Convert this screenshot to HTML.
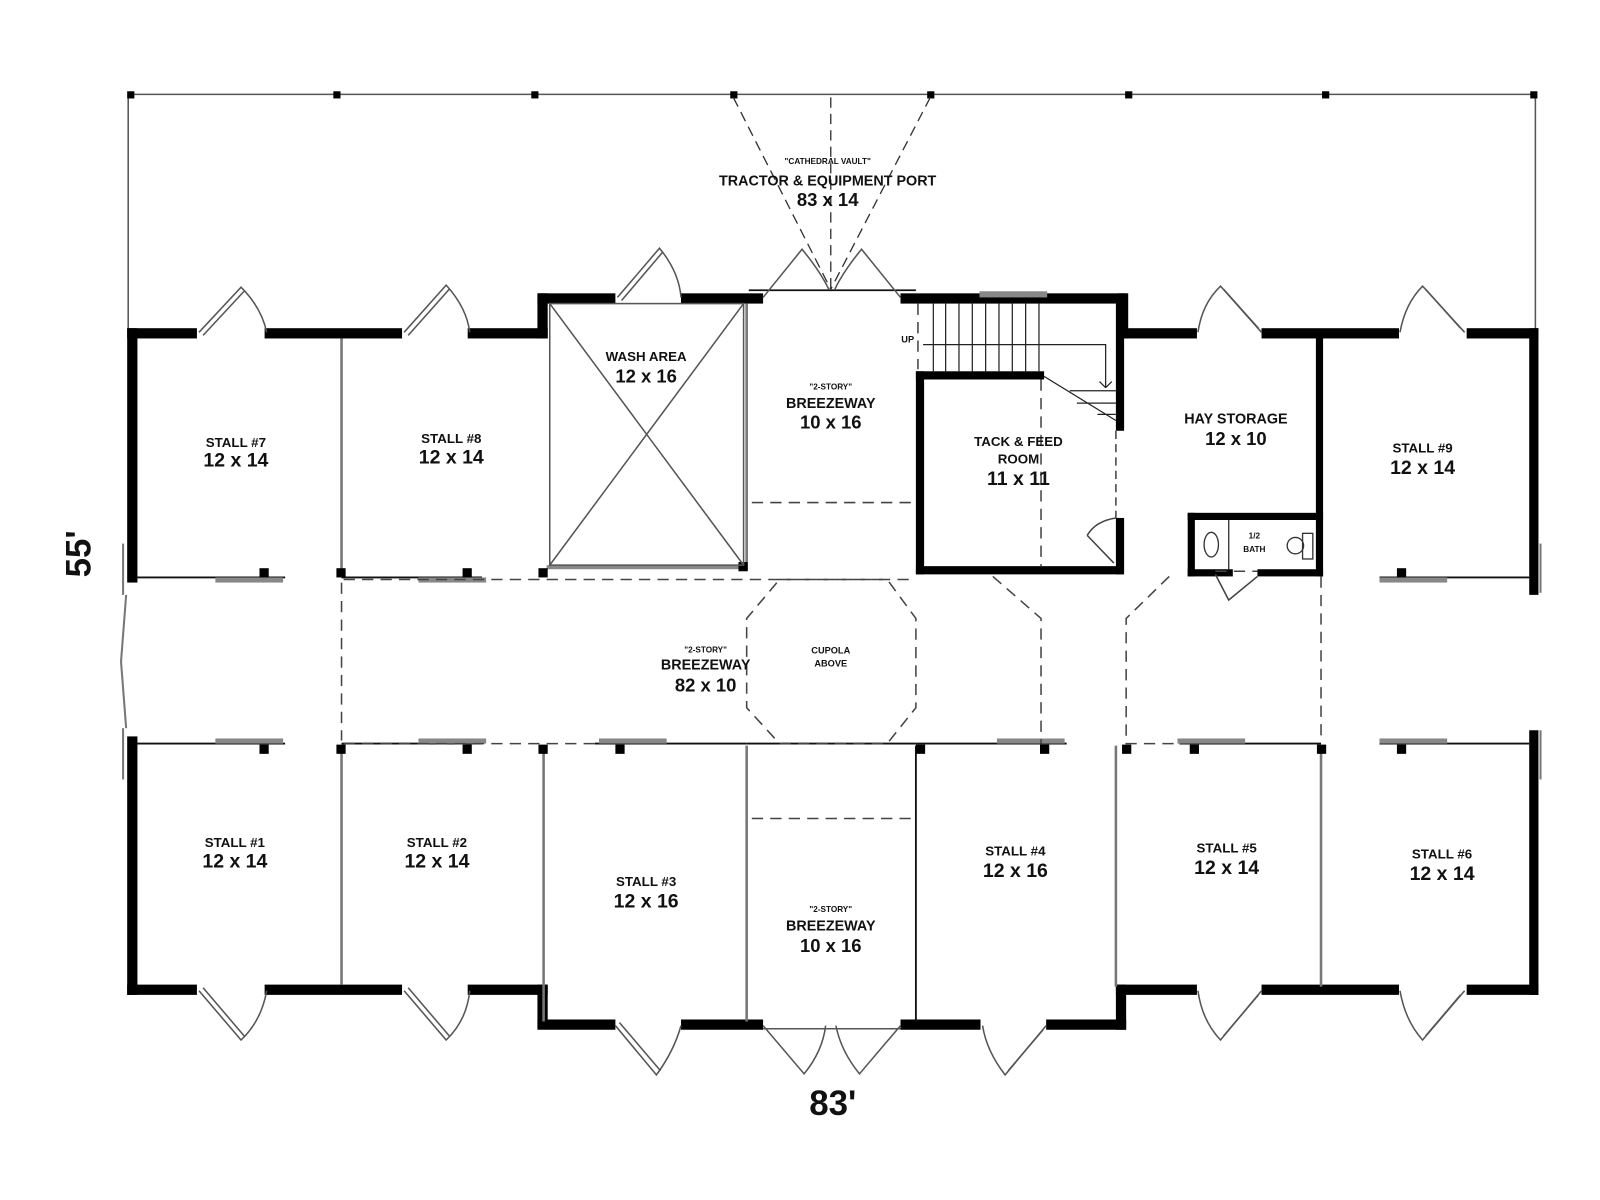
<!DOCTYPE html>
<html><head><meta charset="utf-8"><style>
html,body{margin:0;padding:0;background:#fff;}
svg{display:block;}
text{font-family:"Liberation Sans Narrow","Liberation Sans",sans-serif;font-weight:bold;fill:#111;text-anchor:middle;}
</style></head><body>
<svg width="1600" height="1200" viewBox="0 0 1560 1170" preserveAspectRatio="none" xmlns="http://www.w3.org/2000/svg">
<rect x="0" y="0" width="1560" height="1170" fill="#fff"/>
<!-- canopy -->
<g stroke="#555" stroke-width="1.5" fill="none">
<line x1="125" y1="92" x2="1497" y2="92"/>
<line x1="125" y1="92" x2="125" y2="322"/>
<line x1="1497" y1="92" x2="1497" y2="322"/>
</g>
<g fill="#000">
<rect x="124" y="89" width="7" height="7"/><rect x="325" y="89" width="7" height="7"/><rect x="518" y="89" width="7" height="7"/><rect x="712" y="89" width="7" height="7"/><rect x="904" y="89" width="7" height="7"/><rect x="1097" y="89" width="7" height="7"/><rect x="1289" y="89" width="7" height="7"/><rect x="1492" y="89" width="7" height="7"/>
</g>
<g stroke="#333" stroke-width="1.3" stroke-dasharray="10,6" fill="none">
<line x1="715" y1="95" x2="810" y2="282"/><line x1="907" y1="95" x2="810" y2="282"/><line x1="810" y1="95" x2="810" y2="282"/>
</g>
<!-- outer thick walls -->
<g fill="#000">
<!-- top -->
<rect x="124" y="320" width="68" height="10"/><rect x="258" y="320" width="134" height="10"/><rect x="456" y="320" width="78" height="10"/>
<rect x="524" y="286" width="10" height="44"/><rect x="524" y="286" width="76" height="10"/><rect x="664" y="286" width="80" height="10"/>
<rect x="878" y="286" width="220" height="10"/><rect x="1090" y="286" width="10" height="44"/>
<rect x="1090" y="320" width="77" height="10"/><rect x="1230" y="320" width="134" height="10"/><rect x="1430" y="320" width="70" height="10"/>
<!-- left/right -->
<rect x="124" y="320" width="10" height="248"/><rect x="124" y="718" width="10" height="252"/>
<rect x="1491" y="320" width="9" height="260"/><rect x="1491" y="712" width="9" height="258"/>
<!-- bottom -->
<rect x="124" y="960" width="68" height="10"/><rect x="258" y="960" width="134" height="10"/><rect x="456" y="960" width="78" height="10"/>
<rect x="524" y="960" width="10" height="42"/><rect x="524" y="994" width="76" height="10"/><rect x="664" y="994" width="80" height="10"/>
<rect x="878" y="994" width="78" height="10"/><rect x="1020" y="994" width="78" height="10"/><rect x="1088" y="960" width="10" height="44"/>
<rect x="1088" y="960" width="79" height="10"/><rect x="1230" y="960" width="134" height="10"/><rect x="1430" y="960" width="70" height="10"/>
<!-- tack room -->
<rect x="893" y="362" width="8" height="198"/><rect x="893" y="362" width="125" height="8"/><rect x="893" y="552" width="202" height="8"/>
<rect x="1088" y="290" width="8" height="130"/><rect x="1088" y="505" width="8" height="55"/>
<!-- bath -->
<rect x="1158" y="500" width="132" height="7"/><rect x="1158" y="500" width="7" height="62"/><rect x="1158" y="555" width="44" height="7"/><rect x="1226" y="555" width="64" height="7"/><rect x="1283" y="325" width="7" height="237"/>
</g>
<!-- window top -->
<rect x="955" y="284" width="66" height="6" fill="#888"/>
<!-- left side door lines -->
<g stroke="#777" stroke-width="2" fill="none">
<line x1="120" y1="530" x2="120" y2="580"/><line x1="120" y1="710" x2="120" y2="760"/>
<line x1="1502" y1="530" x2="1502" y2="578"/><line x1="1502" y1="712" x2="1502" y2="760"/>
<line x1="123" y1="580" x2="118" y2="645"/><line x1="123" y1="710" x2="118" y2="645"/>
</g>
<!-- interior grey partitions -->
<g stroke="#777" stroke-width="2.5" fill="none">
<line x1="333" y1="330" x2="333" y2="563"/><line x1="333" y1="727" x2="333" y2="960"/>
<line x1="530" y1="727" x2="530" y2="996"/><line x1="728" y1="296" x2="728" y2="556"/><line x1="728" y1="727" x2="728" y2="996"/>
<line x1="1088" y1="727" x2="1088" y2="962"/><line x1="1288" y1="727" x2="1288" y2="962"/>
</g>
<g stroke="#111" stroke-width="1.8" fill="none">
<line x1="893" y1="727" x2="893" y2="996"/>
<line x1="134" y1="563" x2="278" y2="563"/><line x1="333" y1="563" x2="470" y2="563"/>
<line x1="134" y1="725" x2="278" y2="725"/><line x1="333" y1="725" x2="470" y2="725"/>
<line x1="580" y1="725" x2="728" y2="725"/><line x1="728" y1="725" x2="893" y2="725"/><line x1="893" y1="725" x2="1040" y2="725"/>
<line x1="1150" y1="725" x2="1288" y2="725"/><line x1="1345" y1="725" x2="1491" y2="725"/>
<line x1="1345" y1="563" x2="1491" y2="563"/>
<line x1="730" y1="283" x2="893" y2="283"/>
</g>
<!-- sliding doors grey -->
<g fill="#888">
<rect x="210" y="563" width="66" height="5"/><rect x="408" y="563" width="66" height="5"/><rect x="1345" y="563" width="66" height="5"/>
<rect x="210" y="720" width="66" height="5"/><rect x="408" y="720" width="66" height="5"/><rect x="584" y="720" width="66" height="5"/>
<rect x="972" y="720" width="66" height="5"/><rect x="1148" y="720" width="66" height="5"/><rect x="1345" y="720" width="66" height="5"/>
<rect x="533" y="551" width="192" height="4"/>
</g>
<!-- posts -->
<g fill="#000">
<rect x="253" y="554" width="9" height="9"/><rect x="328" y="554" width="9" height="9"/><rect x="451" y="554" width="9" height="9"/><rect x="525" y="554" width="9" height="9"/><rect x="720" y="548" width="9" height="9"/><rect x="1362" y="554" width="9" height="9"/>
<rect x="253" y="726" width="9" height="9"/><rect x="328" y="726" width="9" height="9"/><rect x="451" y="726" width="9" height="9"/><rect x="525" y="726" width="9" height="9"/><rect x="600" y="726" width="9" height="9"/>
<rect x="893" y="726" width="9" height="9"/><rect x="1014" y="726" width="9" height="9"/><rect x="1094" y="726" width="9" height="9"/><rect x="1160" y="726" width="9" height="9"/><rect x="1284" y="726" width="9" height="9"/><rect x="1362" y="726" width="9" height="9"/>
</g>
<!-- wash area -->
<g stroke="#555" stroke-width="1.5" fill="none">
<rect x="536" y="296" width="189" height="255"/>
<line x1="536" y1="296" x2="725" y2="551"/><line x1="725" y1="296" x2="536" y2="551"/>
</g>
<!-- dashed lines -->
<g stroke="#444" stroke-width="1.5" stroke-dasharray="11,7" fill="none">
<line x1="733" y1="490" x2="893" y2="490"/><line x1="733" y1="798" x2="893" y2="798"/>
<line x1="335" y1="565" x2="893" y2="565"/><line x1="335" y1="725" x2="580" y2="725"/>
<line x1="333" y1="568" x2="333" y2="722"/>
<polygon points="760,565 865,565 893,603 893,690 865,725 760,725 728,690 728,603"/>
<polyline points="968,562 1015,603 1015,725"/>
<polyline points="1140,562 1098,603 1098,725 1150,725"/>
<line x1="1288" y1="562" x2="1288" y2="722"/>
<line x1="1015" y1="370" x2="1015" y2="552"/>
<line x1="1185" y1="557" x2="1226" y2="557"/>
<line x1="895" y1="296" x2="895" y2="360"/>
</g>
<!-- stairs -->
<g stroke="#222" stroke-width="1.2" fill="none">
<line x1="910" y1="296" x2="910" y2="362"/><line x1="922" y1="296" x2="922" y2="362"/><line x1="935" y1="296" x2="935" y2="362"/><line x1="948" y1="296" x2="948" y2="362"/><line x1="961" y1="296" x2="961" y2="362"/><line x1="974" y1="296" x2="974" y2="362"/><line x1="987" y1="296" x2="987" y2="362"/><line x1="1000" y1="296" x2="1000" y2="362"/><line x1="1013" y1="296" x2="1013" y2="362"/>
<polyline points="900,336 1078,336 1078,378"/>
<line x1="1018" y1="367" x2="1088" y2="410"/>
<line x1="1043" y1="381" x2="1088" y2="381"/><line x1="1050" y1="393" x2="1088" y2="393"/><line x1="1070" y1="404" x2="1088" y2="404"/>
<line x1="1072" y1="372" x2="1078" y2="378"/><line x1="1084" y1="372" x2="1078" y2="378"/>
</g>
<text x="885" y="334" font-size="9" font-weight="normal">UP</text>
<!-- tack door -->
<g stroke="#444" stroke-width="1.5" fill="none">
<line x1="1088" y1="420" x2="1088" y2="505" stroke-dasharray="8,5"/>
<line x1="1060" y1="522" x2="1086" y2="549"/><path d="M1060 522 Q1068 508 1088 505"/>
<path d="M1185 560 L1198 585 L1226 562"/>
</g>
<!-- bath fixtures -->
<g stroke="#333" stroke-width="1.3" fill="none">
<line x1="1198" y1="507" x2="1198" y2="555"/>
<ellipse cx="1181" cy="531" rx="7" ry="12"/>
<circle cx="1263" cy="532" r="8"/><rect x="1270" y="520" width="10" height="25"/>
</g>
<text x="1223" y="525" font-size="8">1/2</text><text x="1223" y="538" font-size="8">BATH</text>
<!-- doors -->
<g stroke="#555" stroke-width="1.5" fill="none">
<!-- top -->
<path d="M194 324 L235 280 Q255 300 260 324"/><line x1="198" y1="327" x2="238" y2="284"/>
<path d="M394 324 L435 278 Q455 300 458 324"/><line x1="398" y1="327" x2="438" y2="282"/>
<path d="M602 290 L643 242 Q662 265 664 290"/><line x1="606" y1="293" x2="646" y2="246"/>
<path d="M744 290 L782 243 Q800 265 808 282"/><path d="M878 290 L840 243 Q822 265 814 282"/>
<path d="M1168 324 Q1172 296 1190 279 L1230 324"/><line x1="1193" y1="282" x2="1227" y2="320"/>
<path d="M1365 324 Q1370 296 1387 279 L1428 324"/><line x1="1390" y1="282" x2="1424" y2="320"/>
<!-- bottom -->
<path d="M194 966 L235 1014 Q255 995 260 966"/><line x1="198" y1="963" x2="238" y2="1010"/>
<path d="M394 966 L435 1014 Q455 995 458 966"/><line x1="398" y1="963" x2="438" y2="1010"/>
<path d="M600 1000 L640 1048 Q657 1025 664 1000"/><line x1="604" y1="997" x2="644" y2="1044"/>
<path d="M744 1000 L784 1047 Q802 1025 805 1000"/><path d="M878 1000 L838 1047 Q820 1025 815 1000"/>
<line x1="744" y1="1003" x2="878" y2="1003"/>
<path d="M958 1000 Q962 1025 980 1048 L1020 1000"/><line x1="983" y1="1044" x2="1017" y2="1004"/>
<path d="M1168 966 Q1172 995 1190 1014 L1230 966"/><line x1="1193" y1="1010" x2="1227" y2="970"/>
<path d="M1365 966 Q1370 995 1387 1014 L1428 966"/><line x1="1390" y1="1010" x2="1424" y2="970"/>
</g>
<!-- labels -->
<text x="807" y="160" font-size="8">"CATHEDRAL VAULT"</text>
<text x="807" y="181" font-size="14">TRACTOR &amp; EQUIPMENT PORT</text>
<text x="807" y="201" font-size="18">83 x 14</text>
<text x="230" y="436" font-size="13">STALL #7</text><text x="230" y="455" font-size="19">12 x 14</text>
<text x="440" y="432" font-size="13">STALL #8</text><text x="440" y="452" font-size="19">12 x 14</text>
<text x="630" y="352" font-size="13">WASH AREA</text><text x="630" y="373" font-size="18">12 x 16</text>
<text x="810" y="380" font-size="8">"2-STORY"</text><text x="810" y="398" font-size="14">BREEZEWAY</text><text x="810" y="418" font-size="18">10 x 16</text>
<text x="993" y="435" font-size="13">TACK &amp; FEED</text><text x="993" y="452" font-size="13">ROOM</text><text x="993" y="473" font-size="19">11 x 11</text>
<text x="1205" y="413" font-size="14">HAY STORAGE</text><text x="1205" y="434" font-size="18">12 x 10</text>
<text x="1387" y="441" font-size="13">STALL #9</text><text x="1387" y="462" font-size="19">12 x 14</text>
<text x="688" y="636" font-size="8">"2-STORY"</text><text x="688" y="653" font-size="14">BREEZEWAY</text><text x="688" y="674" font-size="18">82 x 10</text>
<text x="810" y="637" font-size="9" font-weight="normal">CUPOLA</text><text x="810" y="650" font-size="9" font-weight="normal">ABOVE</text>
<text x="229" y="826" font-size="13">STALL #1</text><text x="229" y="846" font-size="19">12 x 14</text>
<text x="426" y="826" font-size="13">STALL #2</text><text x="426" y="846" font-size="19">12 x 14</text>
<text x="630" y="864" font-size="13">STALL #3</text><text x="630" y="885" font-size="19">12 x 16</text>
<text x="810" y="889" font-size="8">"2-STORY"</text><text x="810" y="907" font-size="14">BREEZEWAY</text><text x="810" y="928" font-size="18">10 x 16</text>
<text x="990" y="834" font-size="13">STALL #4</text><text x="990" y="855" font-size="19">12 x 16</text>
<text x="1196" y="831" font-size="13">STALL #5</text><text x="1196" y="852" font-size="19">12 x 14</text>
<text x="1406" y="837" font-size="13">STALL #6</text><text x="1406" y="858" font-size="19">12 x 14</text>
<text x="812" y="1087" font-size="34">83'</text>
<text x="0" y="0" font-size="34" transform="translate(88,540) rotate(-90)">55'</text>
</svg>
</body></html>
